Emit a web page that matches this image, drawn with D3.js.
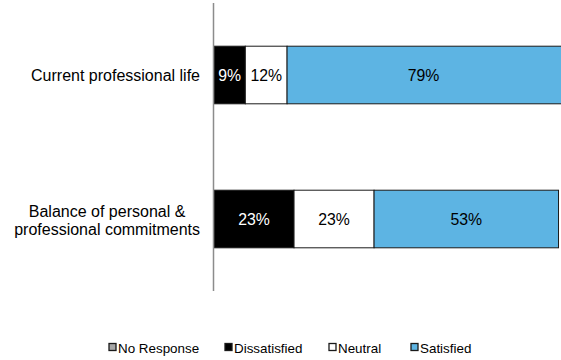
<!DOCTYPE html>
<html><head><meta charset="utf-8">
<script src="https://cdn.jsdelivr.net/npm/d3@7"></script>
<style>body{margin:0;background:#fff}svg{display:block}text{font-family:"Liberation Sans",Arial,sans-serif}</style>
</head><body>
<script>
const categories = ["Current professional life", "Balance of personal & professional commitments"];
const categoryLines = [["Current professional life"], ["Balance of personal &", "professional commitments"]];
const seriesNames = ["No Response", "Dissatisfied", "Neutral", "Satisfied"];
const noResponse = [0, 0];
const dissatisfied = [9, 23];
const neutral = [12, 23];
const satisfied = [79, 53];
const colors = ["#a6a6a6", "#000000", "#ffffff", "#5db4e3"];
const labelColors = ["#000", "#fff", "#000", "#000"];

const W = 561, H = 360;
const svg = d3.select("body").append("svg").attr("width", W).attr("height", H);

const rows = categories.map((c, i) => ({cat: c, "No Response": noResponse[i], "Dissatisfied": dissatisfied[i], "Neutral": neutral[i], "Satisfied": satisfied[i]}));
const stack = d3.stack().keys(seriesNames)(rows);

const x = d3.scaleLinear().domain([0, 100]).range([214, 562]);
const y = d3.scaleBand().domain(categories).range([3, 291]).paddingInner(0.6).paddingOuter(0.3);

const g = svg.append("g");
stack.forEach((layer, si) => {
  layer.forEach((d, i) => {
    const w = x(d[1]) - x(d[0]);
    if (w <= 0) return;
    g.append("rect").attr("x", x(d[0])).attr("y", y(categories[i]))
      .attr("width", w).attr("height", y.bandwidth())
      .attr("fill", colors[si]).attr("stroke", "#1a1a1a").attr("stroke-width", 1);
    g.append("text").attr("x", (x(d[0]) + x(d[1])) / 2 - (d[1] >= 100 ? 1 : 0))
      .attr("y", y(categories[i]) + y.bandwidth() / 2).attr("dy", "0.35em")
      .attr("text-anchor", "middle").attr("font-size", "15.8px").attr("fill", labelColors[si])
      .text(d.data[seriesNames[si]] + "%");
  });
});

// axis line
svg.append("line").attr("x1", 213.5).attr("x2", 213.5).attr("y1", 3).attr("y2", 291)
  .attr("stroke", "#8c8c8c").attr("stroke-width", 1.5);

// category labels
categories.forEach((c, i) => {
  const lines = categoryLines[i];
  const cy = y(c) + y.bandwidth() / 2 + (lines.length > 1 ? 1.5 : 0);
  const lh = 18;
  const t = svg.append("text").attr("font-size", "16px").attr("fill", "#000");
  lines.forEach((l, k) => {
    t.append("tspan").attr("x", 0).attr("y", cy + (k - (lines.length - 1) / 2) * lh).attr("dy", "0.35em").text(l);
  });
  let maxW = 0;
  t.selectAll("tspan").each(function(){ maxW = Math.max(maxW, this.getComputedTextLength()); });
  const right = 200;
  if (lines.length === 1) {
    t.attr("text-anchor", "end"); t.selectAll("tspan").attr("x", right);
  } else {
    t.attr("text-anchor", "middle"); t.selectAll("tspan").attr("x", right - maxW / 2);
  }
});

// legend
const legendX = [108, 224, 328, 410];
const ly = 348;
seriesNames.forEach((s, i) => {
  svg.append("rect").attr("x", legendX[i] + 1).attr("y", ly - 4.5).attr("width", 7).attr("height", 7)
    .attr("fill", colors[i]).attr("stroke", "#1a1a1a").attr("stroke-width", 1.3);
  svg.append("text").attr("x", legendX[i] + 10).attr("y", ly).attr("dy", "0.35em")
    .attr("font-size", "13.4px").attr("fill", "#000").text(s);
});
</script>
</body></html>
